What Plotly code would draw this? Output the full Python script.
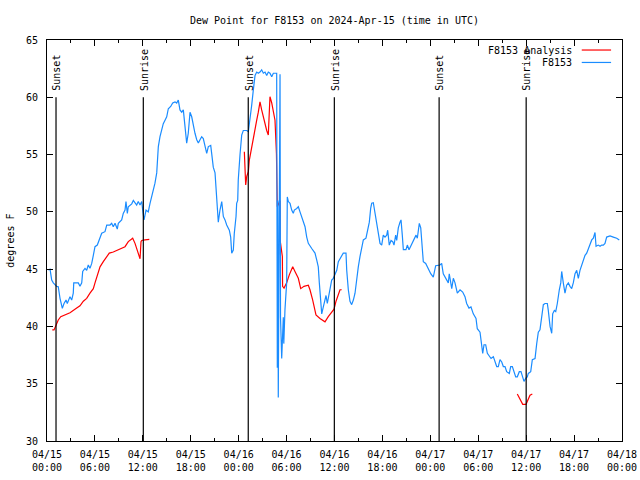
import pandas as pd
import plotly.graph_objects as go

# ---- data (hours since 2024-04-15 00:00 UTC, degrees F) ----
obs_hours = [0.16, 0.38, 0.59, 0.79, 1.21, 1.41, 1.63, 1.92, 2.13, 2.38, 2.54, 2.88, 3.09, 3.29, 3.35,
             3.92, 4.13, 4.35, 4.47, 4.76, 4.97, 5.17, 5.38, 5.60, 5.80, 6.01, 6.30, 6.64, 6.85, 7.26,
             7.48, 7.89, 8.10, 8.30, 8.52, 8.80, 8.93, 9.35, 9.55, 9.77, 9.89, 10.06, 10.18, 10.61, 10.81,
             11.23, 11.43, 11.65, 11.86, 11.98, 12.15, 12.40, 12.68, 12.90, 13.11, 13.31, 13.52, 13.74,
             13.94, 14.15, 14.36, 14.56, 14.78, 14.99, 15.19, 15.49, 15.74, 16.03, 16.24, 16.44, 16.65,
             16.87, 17.07, 17.28, 17.49, 17.69, 17.91, 18.12, 18.32, 18.53, 18.75, 18.95, 19.16, 19.37,
             19.57, 19.78, 20.00, 20.20, 20.50, 20.62, 20.82, 21.04, 21.16, 21.33, 21.45, 21.66, 21.88,
             22.08, 22.29, 22.50, 22.83, 23.00, 23.13, 23.33, 23.45, 23.67, 23.75, 23.88, 23.95, 24.17,
             24.38, 24.58, 25.01, 25.21, 25.42, 25.63, 25.83, 26.05, 26.26, 26.46, 26.67, 26.88, 27.09,
             27.30, 27.51, 27.71, 27.92, 28.14, 28.34, 28.76, 28.84, 28.90, 28.96, 29.18, 29.24, 29.39,
             29.59, 29.65, 29.80, 30.01, 30.09, 30.22, 30.43, 30.64, 30.84, 30.97, 31.27, 31.47, 31.68,
             31.89, 32.09, 32.31, 32.52, 32.72, 33.15, 33.56, 33.77, 33.97, 34.10, 34.18, 34.31, 34.40,
             34.60, 34.81, 34.94, 35.10, 35.44, 35.65, 35.85, 36.06, 36.28, 36.48, 36.69, 37.10, 37.44,
             37.53, 37.73, 37.94, 38.15, 38.36, 38.57, 38.78, 38.98, 39.19, 39.40, 39.61, 39.94, 40.11,
             40.36, 40.53, 40.66, 40.86, 41.07, 41.28, 41.49, 41.70, 41.91, 42.11, 42.32, 42.54, 42.66,
             42.86, 43.08, 43.29, 43.45, 43.66, 43.79, 43.99, 44.20, 44.33, 44.49, 44.62, 44.95, 45.12,
             45.33, 45.54, 45.74, 45.96, 46.21, 46.37, 46.62, 46.80, 46.92, 47.12, 47.42, 47.62, 47.83,
             48.05, 48.37, 48.67, 49.21, 49.42, 49.62, 49.96, 50.25, 50.37, 50.68, 50.88, 51.09, 51.38,
             51.72, 52.05, 52.34, 52.55, 52.84, 53.09, 53.38, 53.72, 53.88, 54.22, 54.35, 54.56, 54.72,
             54.93, 55.14, 55.39, 55.60, 55.89, 56.10, 56.31, 56.51, 56.72, 56.94, 57.14, 57.35, 57.56,
             57.89, 58.06, 58.27, 58.48, 58.69, 58.89, 59.14, 59.35, 59.57, 59.73, 59.98, 60.14, 60.27,
             60.57, 60.77, 61.11, 61.32, 61.52, 61.73, 61.95, 62.15, 62.36, 62.65, 62.77, 62.99, 63.20,
             63.32, 63.53, 63.70, 63.90, 64.03, 64.15, 64.33, 64.45, 64.65, 64.86, 65.07, 65.28, 65.49,
             65.70, 65.90, 66.12, 66.33, 66.53, 66.74, 66.96, 67.16, 67.37, 67.58, 67.78, 68.00, 68.21,
             68.41, 68.62, 68.75, 69.03, 69.25, 69.46, 69.66, 69.87, 70.08, 70.50, 70.91, 71.34, 71.66]
obs_dewpoint = [44.93, 45.0, 44.05, 43.8, 43.5, 43.47, 42.45, 41.58, 42.0, 42.3, 42.0, 42.6, 42.3, 42.9, 43.8,
                43.8, 43.5, 43.8, 44.8, 45.07, 44.9, 45.36, 45.07, 45.5, 46.2, 46.96, 47.1, 47.7, 48.13, 48.27,
                48.85, 48.85, 49.0, 48.7, 49.0, 48.5, 49.0, 49.3, 49.87, 50.16, 50.9, 49.87, 50.45, 50.7, 51.0,
                50.6, 50.9, 50.6, 50.9, 50.16, 49.3, 50.16, 50.0, 50.75, 51.3, 51.9, 52.5, 53.4,
                55.7, 56.56, 57.1, 57.7, 58.0, 58.3, 59.0, 59.2, 59.5, 59.6, 59.5, 59.76, 58.9,
                58.7, 58.9, 57.4, 56.0, 56.86, 58.7, 58.3, 57.4, 56.86, 56.3, 56.0, 56.3, 56.56,
                56.4, 55.7, 55.1, 55.7, 55.8, 55.1, 53.9, 53.4, 51.9, 50.45, 49.1, 50.16, 50.9,
                49.6, 49.3, 48.85, 48.4, 47.8, 46.4, 46.67, 48.1, 49.6, 50.75, 51.0, 52.8, 55.0,
                56.7, 57.1, 57.1, 57.0, 58.0, 59.3, 60.6, 61.9, 62.2, 62.1, 62.2, 62.4, 62.1,
                62.2, 61.9, 62.2, 62.1, 61.8, 62.1, 62.1, 36.4, 51.0, 33.8, 62.0, 40.8, 37.2,
                40.8, 38.5, 41.5, 43.8, 51.3, 50.9, 50.75, 50.16, 49.87, 50.16, 50.3, 50.45, 50.0,
                49.6, 49.3, 48.7, 47.8, 47.25, 46.8, 46.4, 45.8, 45.2, 43.8, 42.9, 41.7, 41.1,
                41.7, 42.3, 42.7, 42.0, 43.2, 44.05, 44.2, 44.6, 44.9, 45.65, 45.9, 46.4, 46.4,
                44.9, 43.2, 42.2, 41.9, 42.3, 42.9, 44.2, 45.2, 46.1, 46.8, 47.55, 47.7, 48.4,
                49.1, 50.3, 50.75, 50.8, 49.87, 49.0, 47.8, 47.25, 47.1, 47.97, 47.8, 47.97, 48.4,
                47.1, 47.5, 47.4, 47.1, 47.97, 47.5, 48.6, 49.1, 49.3, 47.97, 46.7, 46.7, 47.1,
                46.7, 47.0, 47.4, 47.7, 47.97, 47.7, 49.0, 48.6, 47.55, 45.65, 45.5, 45.2, 44.9,
                44.6, 44.3, 45.3, 45.36, 45.5, 44.6, 44.2, 43.8, 44.6, 43.3, 44.2, 43.8, 42.9,
                43.2, 43.0, 42.6, 42.0, 41.6, 41.7, 41.1, 40.7, 39.8, 39.5, 38.8, 37.65, 38.4,
                38.4, 37.65, 37.36, 37.2, 37.36, 36.9, 36.5, 36.5, 37.1, 36.9, 36.5, 36.5, 36.05,
                35.9, 36.5, 36.5, 36.05, 35.6, 35.6, 36.05, 36.05, 35.6, 35.2, 35.5, 35.6, 35.9,
                36.05, 37.1, 37.2, 38.5, 39.5, 39.7, 40.7, 41.9, 42.0, 42.0, 41.4, 40.0, 39.4,
                41.1, 41.4, 41.3, 42.0, 42.7, 43.2, 43.8, 44.8, 43.8, 42.9, 43.6, 43.8, 43.5,
                43.3, 43.8, 44.6, 44.9, 44.2, 44.9, 45.36, 45.8, 46.2, 46.4, 46.8, 47.25, 47.55,
                47.7, 48.2, 47.0, 47.1, 47.0, 47.1, 47.1, 47.25, 47.8, 47.9, 47.8, 47.7, 47.55]

# analysis series (None marks a gap)
ana_hours = [0.66, 0.88, 1.13, 1.41, 1.72, 2.25, 2.88, 3.72, 4.13, 4.55, 4.97, 5.38, 5.80, 6.01, 6.30,
             6.64, 7.05, 7.48, 7.80, 8.30, 8.93, 9.77, 10.18, 10.73, 11.02, 11.31, 11.52, 11.65, 11.77,
             11.86, 12.27, 12.81, None,
             24.71, 24.88, 25.01, 25.21, 25.33, 25.63, 25.92, 26.26, 26.46, 26.67, 26.88, 27.09, 27.30,
             27.51, 27.71, 27.80, 27.92, 28.14, 28.34, 28.55, 28.73, 28.84, 29.18, 29.20, 29.47, 29.50,
             29.68, 30.01, 30.34, 30.77, 31.05, 31.47, 31.77, 32.18, 32.72, 32.93, 33.27, 33.68, 34.18,
             34.81, 35.22, 35.65, 35.94, 36.19, 36.48, 36.69, 36.90, None,
             58.89, 59.23, 59.57, 59.98, 60.27, 60.48, 60.77]
ana_dewpoint = [39.7, 39.7, 40.1, 40.56, 40.85, 41.0, 41.2, 41.6, 41.8, 42.2, 42.45, 42.9, 43.3, 43.8, 44.5,
                45.2, 45.65, 46.15, 46.4, 46.5, 46.67, 46.96, 47.4, 47.7, 47.25, 46.67, 46.2, 45.9, 47.4,
                47.5, 47.55, 47.6, None,
                55.25, 52.35, 53.1, 53.5, 54.5, 55.7, 57.0, 58.0, 58.7, 59.6, 58.9, 58.3, 57.6,
                57.1, 56.7, 58.45, 60.05, 59.5, 58.7, 58.0, 55.1, 50.45, 51.0, 47.5, 46.1, 43.5,
                43.35, 43.8, 44.5, 45.2, 44.8, 44.2, 43.3, 43.5, 43.6, 43.2, 42.3, 41.0, 40.7,
                40.4, 40.85, 41.3, 41.5, 42.2, 42.9, 43.2, 43.2, None,
                34.1, 33.7, 33.2, 33.2, 33.7, 34.0, 34.1]

sun_hours = [1.13, 12.06, 25.2, 35.98, 49.1, 60.0]
sun_labels = ["Sunset", "Sunrise", "Sunset", "Sunrise", "Sunset", "Sunrise"]

tick_hours = [0, 6, 12, 18, 24, 30, 36, 42, 48, 54, 60, 66, 72]
tick_labels = ["04/15<br>00:00", "04/15<br>06:00", "04/15<br>12:00", "04/15<br>18:00",
               "04/16<br>00:00", "04/16<br>06:00", "04/16<br>12:00", "04/16<br>18:00",
               "04/17<br>00:00", "04/17<br>06:00", "04/17<br>12:00", "04/17<br>18:00",
               "04/18<br>00:00"]
minor_hours = [3, 9, 15, 21, 27, 33, 39, 45, 51, 57, 63, 69]

base = pd.Timestamp("2024-04-15 00:00")


def to_time(hours):
    return [None if h is None else base + pd.Timedelta(hours=h) for h in hours]


FONT = "DejaVu Sans Mono"
fig = go.Figure()

fig.add_trace(go.Scatter(x=to_time(ana_hours), y=ana_dewpoint, mode="lines",
                         line=dict(color="#ff0000", width=1.2), connectgaps=False,
                         name="F8153 Analysis", showlegend=False, hoverinfo="skip"))
fig.add_trace(go.Scatter(x=to_time(obs_hours), y=obs_dewpoint, mode="lines",
                         line=dict(color="#1a8cff", width=1.2),
                         name="F8153", showlegend=False, hoverinfo="skip"))

for h, lab in zip(sun_hours, sun_labels):
    t = base + pd.Timedelta(hours=h)
    fig.add_shape(type="line", xref="x", yref="y", x0=t, x1=t, y0=30, y1=60,
                  line=dict(color="black", width=1.2))
    fig.add_annotation(x=t, y=60.4, xref="x", yref="y", text=lab, textangle=-90,
                       showarrow=False, yanchor="bottom", xanchor="center", xshift=1,
                       font=dict(family=FONT, size=10, color="black"))

# manual legend (text left of sample line, gnuplot style)
legend_items = [("F8153 Analysis", "#ff0000", 0.975), ("F8153", "#1a8cff", 0.944)]
for text, col, yp in legend_items:
    fig.add_annotation(x=0.917, y=yp, xref="paper", yref="paper", text=text, showarrow=False,
                       xanchor="right", yanchor="middle",
                       font=dict(family=FONT, size=10, color="black"))
    fig.add_shape(type="line", xref="paper", yref="paper", x0=0.930, x1=0.981, y0=yp, y1=yp,
                  line=dict(color=col, width=1.2))

fig.add_annotation(x=-0.064, y=0.5, xref="paper", yref="paper", text="degrees F",
                   textangle=-90, showarrow=False, xanchor="center", yanchor="middle",
                   font=dict(family=FONT, size=10, color="black"))

fig.update_layout(
    width=640, height=480, autosize=False,
    margin=dict(l=47, r=18, t=40, b=39, autoexpand=False),
    paper_bgcolor="white", plot_bgcolor="white",
    title=dict(text="Dew Point for F8153 on 2024-Apr-15 (time in UTC)", x=0.5, xref="paper",
               y=1 - 20 / 480, yanchor="middle", xanchor="center", automargin=False,
               font=dict(family=FONT, size=10, color="black")),
    font=dict(family=FONT, size=10, color="black"),
)
fig.update_xaxes(range=[base, base + pd.Timedelta(hours=72)], automargin=False,
                 tickmode="array", tickvals=to_time(tick_hours), ticktext=tick_labels,
                 ticks="inside", ticklen=6, tickcolor="black", tickwidth=1,
                 minor=dict(tickmode="array", tickvals=to_time(minor_hours), ticks="inside",
                            ticklen=3, tickcolor="black"),
                 showline=True, linecolor="black", linewidth=1, mirror="ticks",
                 showgrid=False, zeroline=False, ticklabelstandoff=4)
fig.update_yaxes(range=[30, 65], tickmode="array", tickvals=[30, 35, 40, 45, 50, 55, 60, 65],
                 automargin=False,
                 ticks="inside", ticklen=6, tickcolor="black", tickwidth=1,
                 showline=True, linecolor="black", linewidth=1, mirror="ticks",
                 showgrid=False, zeroline=False, ticklabelstandoff=6)

fig.write_html(
    "out.html",
    config={"displayModeBar": False},
    post_script="document.body.style.margin='0';document.body.style.overflow='hidden';",
)
